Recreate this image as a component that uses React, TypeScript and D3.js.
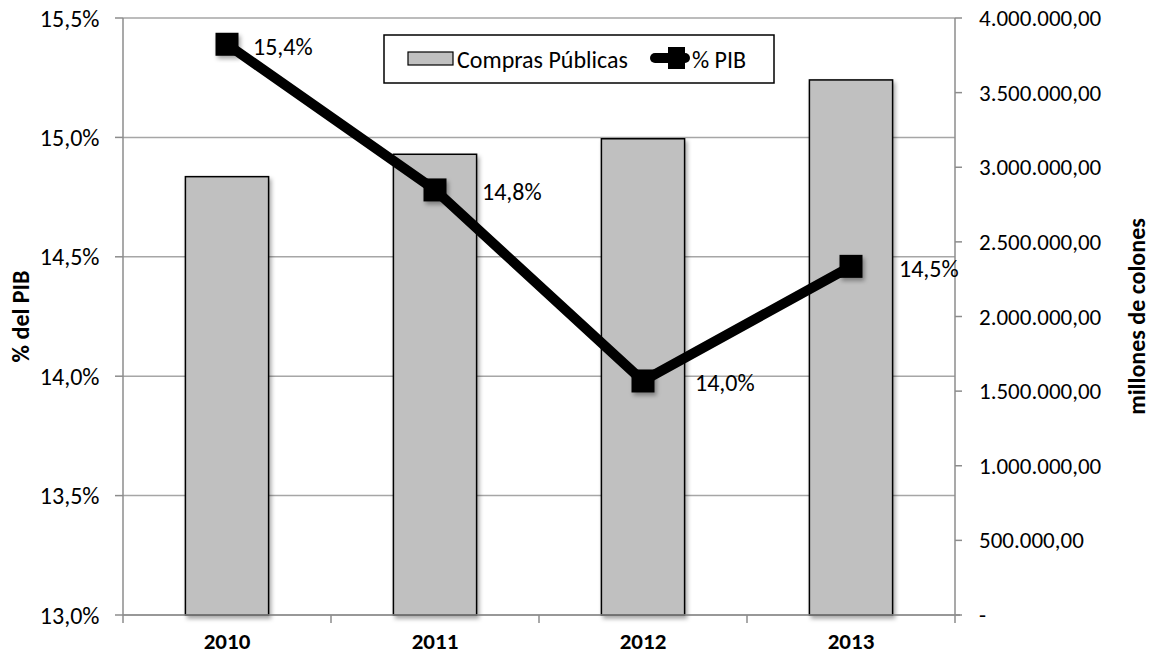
import React from "react";
import * as d3 from "d3";

const categories = ["2010", "2011", "2012", "2013"];
const comprasPublicas = [2937000, 3087000, 3191000, 3585000];
const pctPIB = [15.39, 14.78, 13.98, 14.46];
const leftTicks = [13.0, 13.5, 14.0, 14.5, 15.0, 15.5];
const rightTicks = [0, 500000, 1000000, 1500000, 2000000, 2500000, 3000000, 3500000, 4000000];
const labelDx = [26, 47, 52, 48];

const W = 1149;
const H = 656;
const m = { left: 123, right: 955, top: 18, bottom: 615 };
const FONT = "Calibri, Carlito, 'Open Sans', sans-serif";

const fmtPct = (v: number) => v.toFixed(1).replace(".", ",") + "%";
const fmtMoney = (v: number) => {
  if (v === 0) return "-";
  const s = Math.round(v).toString().replace(/\B(?=(\d{3})+(?!\d))/g, ".");
  return s + ",00";
};

export default function App() {
  const x = d3.scaleBand<string>().domain(categories).range([m.left, m.right]).paddingInner(0).paddingOuter(0);
  const yL = d3.scaleLinear().domain([13, 15.5]).range([m.bottom, m.top]);
  const yR = d3.scaleLinear().domain([0, 4000000]).range([m.bottom, m.top]);
  const barW = x.bandwidth() * 0.4;
  const cx = (c: string) => (x(c) as number) + x.bandwidth() / 2;

  const line = d3
    .line<number>()
    .x((_, i) => cx(categories[i]))
    .y((d) => yL(d));

  const gridColor = "#a6a6a6";
  const axisColor = "#8c8c8c";
  const ms = 23;
  const fs = 24;

  return (
    <svg
      width={W}
      height={H}
      style={{ position: "absolute", left: 0, top: 0, background: "#fff" }}
      fontFamily={FONT}
    >
      <defs>
        <filter id="sh" x="-30%" y="-30%" width="160%" height="160%">
          <feDropShadow dx="2" dy="3" stdDeviation="2" floodColor="#000" floodOpacity="0.35" />
        </filter>
      </defs>
      <rect x={0} y={0} width={W} height={H} fill="#fff" />

      {leftTicks.map((t) => (
        <line key={"g" + t} x1={m.left} x2={m.right} y1={yL(t)} y2={yL(t)} stroke={gridColor} strokeWidth={1.5} />
      ))}

      {categories.map((c, i) => (
        <rect
          key={"b" + c}
          x={cx(c) - barW / 2}
          y={yR(comprasPublicas[i])}
          width={barW}
          height={yR(0) - yR(comprasPublicas[i])}
          fill="#c0c0c0"
          stroke="#000"
          strokeWidth={1.5}
          filter="url(#sh)"
        />
      ))}

      <line x1={m.left} x2={m.left} y1={m.top} y2={m.bottom} stroke={axisColor} strokeWidth={1.5} />
      <line x1={m.right} x2={m.right} y1={m.top} y2={m.bottom} stroke={axisColor} strokeWidth={1.5} />
      <line x1={m.left} x2={m.right + 5} y1={m.bottom} y2={m.bottom} stroke={axisColor} strokeWidth={1.5} />

      {leftTicks.map((t) => (
        <g key={"lt" + t}>
          <line x1={m.left - 8} x2={m.left} y1={yL(t)} y2={yL(t)} stroke={axisColor} strokeWidth={1.5} />
          <text x={99.5} y={yL(t)} textAnchor="end" dominantBaseline="central" fontSize={fs} fill="#000">
            {fmtPct(t)}
          </text>
        </g>
      ))}

      {rightTicks.map((t) => (
        <g key={"rt" + t}>
          <line x1={m.right} x2={m.right + 7} y1={yR(t)} y2={yR(t)} stroke={axisColor} strokeWidth={1.5} />
          <text x={979} y={yR(t)} textAnchor="start" dominantBaseline="central" fontSize={23} fill="#000">
            {fmtMoney(t)}
          </text>
        </g>
      ))}

      {[...categories.map((c) => x(c) as number), m.right].map((bx, i) => (
        <line key={"xt" + i} x1={bx} x2={bx} y1={m.bottom} y2={m.bottom + 8} stroke={axisColor} strokeWidth={1.5} />
      ))}
      {categories.map((c) => (
        <text key={"xl" + c} x={cx(c)} y={649} textAnchor="middle" fontSize={23} fontWeight="bold" fill="#000">
          {c}
        </text>
      ))}

      <text
        transform={`translate(20,${(m.top + m.bottom) / 2}) rotate(-90)`}
        textAnchor="middle"
        dominantBaseline="central"
        fontSize={fs}
        fontWeight="bold"
      >
        % del PIB
      </text>
      <text
        transform={`translate(1136,${(m.top + m.bottom) / 2}) rotate(-90)`}
        textAnchor="middle"
        dominantBaseline="central"
        fontSize={fs}
        fontWeight="bold"
      >
        millones de colones
      </text>

      <path d={line(pctPIB) || ""} fill="none" stroke="#000" strokeWidth={10} strokeLinejoin="round" />
      {categories.map((c, i) => (
        <rect
          key={"mk" + c}
          x={cx(c) - ms / 2}
          y={yL(pctPIB[i]) - ms / 2}
          width={ms}
          height={ms}
          fill="#000"
          filter="url(#sh)"
        />
      ))}
      {categories.map((c, i) => (
        <text
          key={"dl" + c}
          x={cx(c) + labelDx[i]}
          y={yL(pctPIB[i]) + 2}
          dominantBaseline="central"
          fontSize={fs}
          fill="#000"
        >
          {fmtPct(Math.round(pctPIB[i] * 10) / 10)}
        </text>
      ))}

      <rect x={384} y={35} width={390} height={48} fill="#fff" stroke="#000" strokeWidth={1.5} />
      <rect x={408} y={52} width={45} height={13} fill="#c0c0c0" stroke="#000" strokeWidth={1.2} />
      <text x={457} y={59} dominantBaseline="central" fontSize={fs}>
        Compras Públicas
      </text>
      <line x1={655} x2={685} y1={58} y2={58} stroke="#000" strokeWidth={10} strokeLinecap="round" />
      <rect x={668} y={47} width={17} height={22} fill="#000" />
      <text x={692} y={59} dominantBaseline="central" fontSize={fs}>
        % PIB
      </text>
    </svg>
  );
}
